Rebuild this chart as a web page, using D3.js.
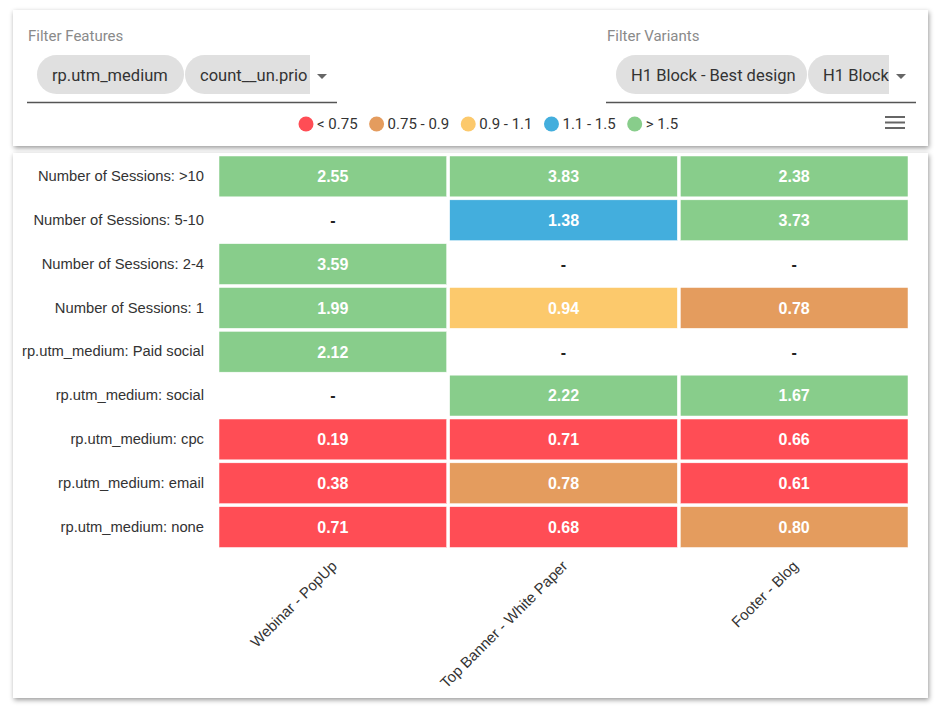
<!DOCTYPE html>
<html>
<head>
<meta charset="utf-8">
<script src="https://cdn.jsdelivr.net/npm/d3@7"></script>
<style>
  body { margin: 0; background: #fff; }
  svg { display: block; }
</style>
</head>
<body>
<div id="chart"></div>
<script>
(function() {
  var width = 944,
      height = 722;

  // heatmap data
  var rows = [
    "Number of Sessions: >10",
    "Number of Sessions: 5-10",
    "Number of Sessions: 2-4",
    "Number of Sessions: 1",
    "rp.utm_medium: Paid social",
    "rp.utm_medium: social",
    "rp.utm_medium: cpc",
    "rp.utm_medium: email",
    "rp.utm_medium: none"
  ];
  var cols = ["Webinar - PopUp", "Top Banner - White Paper", "Footer - Blog"];
  // one array per column, null = no value ("-")
  var webinarValues   = [2.55, null, 3.59, 1.99, 2.12, null, 0.19, 0.38, 0.71];
  var topBannerValues = [3.83, 1.38, null, 0.94, null, 2.22, 0.71, 0.78, 0.68];
  var footerValues    = [2.38, 3.73, null, 0.78, null, 1.67, 0.66, 0.61, 0.80];

  var thresholds = [0.75, 0.9, 1.1, 1.5];
  var legendLabels = ["< 0.75", "0.75 - 0.9", "0.9 - 1.1", "1.1 - 1.5", "> 1.5"];
  var legendColors = ["#ff4d55", "#e49c5e", "#fcc96c", "#43aedd", "#88cd8b"];

  var featureChips = ["rp.utm_medium", "count__un.prio"];
  var variantChips = ["H1 Block - Best design", "H1 Block"];

  var color = d3.scaleThreshold().domain(thresholds).range(legendColors);

  var cells = [];
  [webinarValues, topBannerValues, footerValues].forEach(function(vals, ci) {
    vals.forEach(function(v, ri) {
      cells.push({col: cols[ci], row: rows[ri], value: v});
    });
  });

  var svg = d3.select("#chart").append("svg")
      .attr("width", width)
      .attr("height", height);

  var defs = svg.append("defs");
  defs.append("filter")
      .attr("id", "shadow")
      .attr("x", "-5%").attr("y", "-10%")
      .attr("width", "110%").attr("height", "125%")
    .append("feDropShadow")
      .attr("dx", 1).attr("dy", 2)
      .attr("stdDeviation", 2.5)
      .attr("flood-color", "#000")
      .attr("flood-opacity", 0.4);

  // cards
  svg.append("rect")
      .attr("x", 13).attr("y", 10)
      .attr("width", 915).attr("height", 136)
      .attr("fill", "#fff")
      .attr("filter", "url(#shadow)");
  svg.append("rect")
      .attr("x", 13).attr("y", 153)
      .attr("width", 915).attr("height", 545)
      .attr("fill", "#fff")
      .attr("filter", "url(#shadow)");

  // ---- filter controls ----
  var uiFont = "Roboto, 'Noto Sans', sans-serif";

  function filterBox(g, label, chips, x0, x1, chipStart, chipWidths, clipRight) {
    g.append("text")
        .attr("x", x0 + 1).attr("y", 41)
        .attr("font-family", uiFont)
        .attr("font-size", 15)
        .attr("fill", "#8a8a8a")
        .text(label);

    var clipId = "clip" + x0;
    defs.append("clipPath").attr("id", clipId)
      .append("rect")
        .attr("x", x0).attr("y", 50)
        .attr("width", clipRight - x0).attr("height", 50);

    var cg = g.append("g").attr("clip-path", "url(#" + clipId + ")");
    var cx = chipStart;
    chips.forEach(function(c, i) {
      cg.append("rect")
          .attr("x", cx).attr("y", 55)
          .attr("width", chipWidths[i]).attr("height", 39)
          .attr("rx", 19.5)
          .attr("fill", "#e0e0e0");
      cg.append("text")
          .attr("x", cx + 15).attr("y", 75)
          .attr("dy", "0.35em")
          .attr("font-family", uiFont)
          .attr("font-size", 16.5)
          .attr("fill", "#333")
          .text(c);
      cx += chipWidths[i] + 1;
    });

    // dropdown arrow
    var ax = clipRight + 12;
    g.append("path")
        .attr("d", "M" + (ax - 5) + ",74 L" + (ax + 5) + ",74 L" + ax + ",79 Z")
        .attr("fill", "#666");

    g.append("line")
        .attr("x1", x0).attr("x2", x1)
        .attr("y1", 102.5).attr("y2", 102.5)
        .attr("stroke", "#555")
        .attr("stroke-width", 1.3);
  }

  var top = svg.append("g");
  filterBox(top.append("g"), "Filter Features", featureChips, 27, 337, 37, [147, 160], 310);
  filterBox(top.append("g"), "Filter Variants", variantChips, 606, 916, 616, [191, 160], 889);

  // ---- legend ----
  var legend = svg.append("g").attr("class", "legend");
  var lx = 306;
  legendLabels.forEach(function(l, i) {
    legend.append("circle")
        .attr("cx", lx).attr("cy", 124)
        .attr("r", 7.5)
        .attr("fill", legendColors[i]);
    var t = legend.append("text")
        .attr("x", lx + 11).attr("y", 129)
        .attr("font-family", uiFont)
        .attr("font-size", 15)
        .attr("fill", "#333")
        .text(l);
    lx += 11 + t.node().getComputedTextLength() + 19;
  });

  // hamburger menu
  [117, 122.5, 128].forEach(function(yy) {
    svg.append("line")
        .attr("x1", 885).attr("x2", 905)
        .attr("y1", yy).attr("y2", yy)
        .attr("stroke", "#666")
        .attr("stroke-width", 2);
  });

  // ---- heatmap ----
  var chartFont = "'Liberation Sans', Arial, sans-serif";

  var x = d3.scaleBand().domain(cols).range([217.5, 909.5]);
  var y = d3.scaleBand().domain(rows).range([154.5, 549]);

  var heat = svg.append("g").attr("class", "heat");

  heat.selectAll(".cell")
      .data(cells.filter(function(d) { return d.value !== null; }))
    .enter().append("rect")
      .attr("class", "cell")
      .attr("x", function(d) { return x(d.col) + 1.5; })
      .attr("y", function(d) { return y(d.row) + 1.5; })
      .attr("width", x.bandwidth() - 3)
      .attr("height", y.bandwidth() - 3)
      .attr("fill", function(d) { return color(d.value); })
      .attr("stroke", "#fff")
      .attr("stroke-width", 0.5);

  heat.selectAll(".val")
      .data(cells)
    .enter().append("text")
      .attr("class", "val")
      .attr("x", function(d) { return x(d.col) + x.bandwidth() / 2; })
      .attr("y", function(d) { return y(d.row) + y.bandwidth() / 2; })
      .attr("dy", "0.36em")
      .attr("text-anchor", "middle")
      .attr("font-family", chartFont)
      .attr("font-weight", "bold")
      .attr("font-size", 16)
      .attr("fill", function(d) { return d.value === null ? "#222" : "#fff"; })
      .text(function(d) { return d.value === null ? "-" : d.value.toFixed(2); });

  var yAxis = svg.append("g")
      .attr("transform", "translate(217.5,0)")
      .call(d3.axisLeft(y).tickSize(0).tickPadding(13.5));
  yAxis.select(".domain").remove();
  yAxis.selectAll("text")
      .attr("font-family", chartFont)
      .attr("font-size", 14.75)
      .attr("fill", "#333");

  var xAxis = svg.append("g")
      .attr("transform", "translate(0,549)")
      .call(d3.axisBottom(x).tickSize(0));
  xAxis.select(".domain").remove();
  xAxis.selectAll("text")
      .attr("font-family", chartFont)
      .attr("font-size", 15)
      .attr("fill", "#333")
      .attr("text-anchor", "end")
      .attr("y", 0)
      .attr("dy", null)
      .attr("transform", "translate(5,18) rotate(-45)");
})();
</script>
</body>
</html>
